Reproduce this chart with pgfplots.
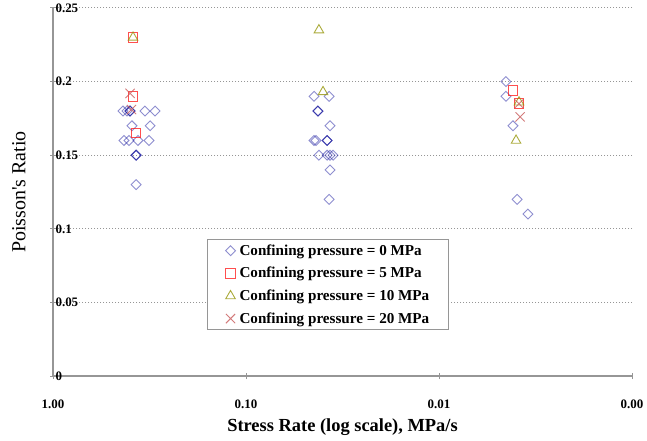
\documentclass[border=0pt]{standalone}
\usepackage{pgfplots}
\pgfplotsset{compat=1.18}
\usepackage{fontspec}
\setmainfont{Liberation Serif}
\usetikzlibrary{calc}
\definecolor{dia}{RGB}{30,30,160}
\definecolor{sq}{RGB}{255,20,20}
\definecolor{tri}{RGB}{150,150,10}
\definecolor{xx}{RGB}{200,90,90}
\definecolor{axgray}{RGB}{150,150,150}
\pgfplotsset{myleg/.style={legend image code/.code={\path[draw=none,fill=none] (0bp,-1bp) rectangle (22bp,1bp);\draw[##1,only marks] plot coordinates {(15bp,0bp)};}}}
\begin{document}
\begin{tikzpicture}
\begin{axis}[
  scale only axis, width=579bp, height=368bp,
  xmode=log, x dir=reverse, xmin=0.001, xmax=1,
  ymin=0, ymax=0.25,
  axis lines=left, axis line style={-, draw=axgray, line width=1.2bp},
  xtick={1,0.1,0.01,0.001}, xticklabels={1.00,0.10,0.01,0.00},
  ytick={0,0.05,0.1,0.15,0.2,0.25}, yticklabels={0,0.05,0.1,0.15,0.2,0.25},
  xminorticks=false,
  ymajorgrids, grid style={dash pattern=on 1.5bp off 1.5bp, axgray, line width=1bp},
  tick style={axgray, line width=1bp}, major tick length=6bp, tick align=center,
  xticklabel style={font=\bfseries\fontsize{13}{15}\selectfont, yshift=-17bp},
  yticklabel style={anchor=west, xshift=2bp, font=\bfseries\fontsize{13}{15}\selectfont},
  xlabel={Stress Rate (log scale), MPa/s},
  xlabel style={font=\bfseries\fontsize{18.5}{21}\selectfont, at={(axis description cs:0.5,0)}, anchor=center, yshift=-51bp},
  ylabel={Poisson\textquotesingle s Ratio},
  ylabel style={font=\fontsize{20}{23}\selectfont, at={(axis description cs:-0.059,0.5)}, anchor=center},
  legend style={at={(rel axis cs:0.266,0.372)}, anchor=north west, draw=axgray, line width=1bp,
    font=\bfseries\fontsize{15.2}{18}\selectfont, inner xsep=8bp, inner ysep=3bp, row sep=6.5bp},
  legend cell align=left,
]
\addplot[only marks, myleg, mark=square, mark size=3.5bp, mark options={rotate=45, draw=dia, draw opacity=0.5, line width=0.9bp}] coordinates {
 (0.434,0.18) (0.414,0.18) (0.399,0.18) (0.399,0.18) (0.399,0.18) (0.334,0.18) (0.296,0.18)
 (0.390,0.17) (0.314,0.17)
 (0.429,0.16) (0.404,0.16) (0.363,0.16) (0.318,0.16)
 (0.371,0.15) (0.371,0.15) (0.371,0.15)
 (0.371,0.13)
 (0.0444,0.19) (0.0371,0.19)
 (0.0424,0.18) (0.0424,0.18) (0.0424,0.18)
 (0.0367,0.17)
 (0.0444,0.16) (0.0434,0.16) (0.0380,0.16) (0.0380,0.16) (0.0380,0.16)
 (0.0419,0.15) (0.0380,0.15) (0.0367,0.15) (0.0354,0.15)
 (0.0367,0.14)
 (0.0371,0.12)
 (0.00450,0.20) (0.00450,0.19) (0.00414,0.17) (0.00394,0.12) (0.00346,0.11)
};
\addlegendentry{Confining pressure = 0 MPa}
\addplot[only marks, myleg, mark=square, mark size=4.8bp, mark options={draw=sq, draw opacity=0.75, line width=0.9bp}] coordinates {
 (0.385,0.23) (0.385,0.19) (0.371,0.165) (0.00414,0.194) (0.00385,0.185)
};
\addlegendentry{Confining pressure = 5 MPa}
\addplot[only marks, myleg, mark=triangle, mark size=5.5bp, mark options={draw=tri, draw opacity=0.8, line width=0.9bp}] coordinates {
 (0.385,0.23) (0.0419,0.235) (0.0399,0.193) (0.00399,0.16) (0.00385,0.186)
};
\addlegendentry{Confining pressure = 10 MPa}
\addplot[only marks, myleg, mark=x, mark size=6.5bp, mark options={draw=xx, draw opacity=0.8, line width=0.9bp}] coordinates {
 (0.399,0.192) (0.392,0.181) (0.00380,0.176) (0.00385,0.185)
};
\addlegendentry{Confining pressure = 20 MPa\hspace*{9bp}}
\end{axis}
\pgfresetboundingbox
\path[use as bounding box] ($(current axis.south west)+(-53bp,-65bp)$) rectangle ($(current axis.north east)+(15bp,8bp)$);
\end{tikzpicture}
\end{document}
